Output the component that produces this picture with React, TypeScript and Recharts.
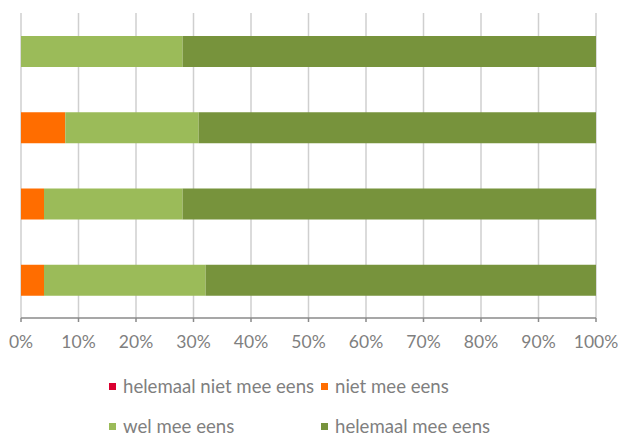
import React from 'react';
import { BarChart, Bar, XAxis, YAxis, CartesianGrid } from 'recharts';

const categories = ['1', '2', '3', '4'];
const helemaalNietMeeEens = [0, 0, 0, 0];
const nietMeeEens = [0, 7.7, 4.0, 4.0];
const welMeeEens = [28.1, 23.2, 24.1, 28.1];
const helemaalMeeEens = [71.9, 69.1, 71.9, 67.9];
const xTicks = [0, 10, 20, 30, 40, 50, 60, 70, 80, 90, 100];

const seriesNames = ['helemaal niet mee eens', 'niet mee eens', 'wel mee eens', 'helemaal mee eens'];
const seriesKeys = ['hn', 'n', 'w', 'h'];
const seriesColors = ['#DA0030', '#FF6D00', '#9BBB59', '#77933C'];

const data = categories.map((c, i) => ({
  name: c,
  hn: helemaalNietMeeEens[i],
  n: nietMeeEens[i],
  w: welMeeEens[i],
  h: helemaalMeeEens[i],
}));

const FONT = 'Lato, "Open Sans", sans-serif';
const TEXT = '#7f7f7f';

export default function App() {
  return (
    <div style={{ position: 'absolute', left: 0, top: 0, width: 622, height: 435, background: '#fff', fontFamily: FONT, overflow: 'hidden' }}>
      <BarChart
        width={622}
        height={435}
        data={data}
        layout="vertical"
        margin={{ top: 13, right: 26, left: 21, bottom: 87 }}
        barCategoryGap={0}
      >
        <CartesianGrid horizontal={false} vertical={true} stroke="#cfcfcf" strokeWidth={1.5} />
        <XAxis
          type="number"
          domain={[0, 100]}
          ticks={xTicks}
          tickFormatter={(v: number) => `${v}%`}
          height={30}
          interval={0}
          stroke="#8a8a8a"
          strokeWidth={1.5}
          tickSize={4}
          tickMargin={14}
          tick={{ fill: TEXT, fontSize: 17.5, fontFamily: FONT }}
        />
        <YAxis type="category" dataKey="name" hide />
        {seriesKeys.map((k, i) => (
          <Bar
            key={k}
            dataKey={k}
            name={seriesNames[i]}
            stackId="s"
            fill={seriesColors[i]}
            barSize={31}
            isAnimationActive={false}
          />
        ))}
      </BarChart>
      <div
        style={{
          position: 'absolute',
          left: 109,
          top: 377,
          display: 'grid',
          gridTemplateColumns: '212px auto',
          gridAutoRows: '40px',
          fontSize: 18.6,
          lineHeight: '18px',
          color: TEXT,
          fontFamily: FONT,
        }}
      >
        {seriesNames.map((nm, i) => (
          <div key={nm} style={{ display: 'flex', alignItems: 'center', height: 18, whiteSpace: 'nowrap' }}>
            <span style={{ display: 'inline-block', width: 7, height: 7, background: seriesColors[i], marginRight: 7, marginTop: 1 }} />
            <span>{nm}</span>
          </div>
        ))}
      </div>
    </div>
  );
}
